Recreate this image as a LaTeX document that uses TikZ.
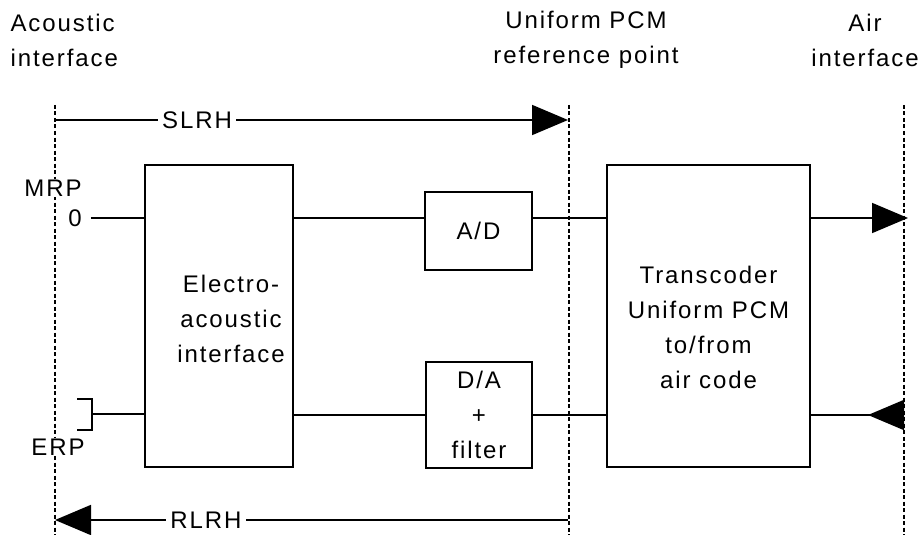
\documentclass[tikz,border=0pt]{standalone}
\usepackage{fontspec}
\setmainfont{Liberation Sans}[LetterSpace=8.0]
\usetikzlibrary{arrows.meta, positioning}

\begin{document}
\begin{tikzpicture}[
        x=1pt, y=-1pt,
        every node/.style={font=\fontsize{24}{35}\selectfont, align=center},
        block/.style={draw, line width=1.8pt, inner sep=0pt},
        wire/.style={line width=1.8pt},
        refline/.style={line width=1.1pt, dash pattern=on 4pt off 2.5pt},
        bigarrow/.style={-{Triangle[length=36pt, width=30pt]}},
        tag/.style={fill=white, inner xsep=4pt, inner ysep=1pt}
    ]
        \useasboundingbox (0,0) rectangle (922,535);

        % Bezugsebenen
        \coordinate (acTop) at (55,105);
        \coordinate (acBot) at (55,535);
        \coordinate (pcmTop) at (569,105);
        \coordinate (pcmBot) at (569,535);
        \coordinate (airTop) at (904,105);
        \coordinate (airBot) at (904,535);
        \draw[refline] (acTop) -- (acBot);
        \draw[refline] (pcmTop) -- (pcmBot);
        \draw[refline] (airTop) -- (airBot);

        % Beschriftung oben
        \node[align=left, anchor=west] (acoustic) at (7,40) {Acoustic\\interface};
        \node (pcmref) at (586,40) {Uniform PCM\\reference point};
        \node (airif) at (865,40) {Air\\interface};

        % Bloecke
        \node[block, minimum width=148pt, minimum height=302pt] (elac) at (219,316) {};
        \node (elactext) at ([xshift=12pt, yshift=-3pt]elac.center) {Electro-\\acoustic\\interface};
        \node[block, minimum width=107pt, minimum height=78pt] (ad) at (478.5,231) {A/D};
        \node[block, minimum width=106pt, minimum height=106pt] (da) at (479,415) {D/A\\+\\filter};
        \node[block, minimum width=203pt, minimum height=302pt] (trans) at (708.5,316) {};
        \node (transtext) at ([yshift=-11pt]trans.center) {Transcoder\\Uniform PCM\\to/from\\air code};

        % Mikrofon und Ohr
        \node[tag] (mrp) at (53,188) {MRP};
        \node[inner sep=0pt] (zero) at (75,218) {0};
        \coordinate (erpjack) at (92,414);
        \draw[wire, line width=1.5pt] (77,399) -- (92,399) -- (92,430) -- (77,430);
        \node[tag] (erp) at (58,447) {ERP};

        % Sendeweg
        \draw[wire] ([xshift=9pt]zero.east) -- (zero -| elac.west);
        \draw[wire] (zero -| elac.east) -- (zero -| ad.west);
        \draw[wire] (zero -| ad.east) -- (zero -| trans.west);
        \coordinate (airout) at (908,218);
        \draw[wire, bigarrow] (zero -| trans.east) -- (airout);

        % Empfangsweg
        \coordinate (airin) at (904,415);
        \draw[wire, {Triangle[reversed, length=36pt, width=30pt]}-] (airin) -- (da.east -| trans.east);
        \draw[wire] (da.east -| trans.west) -- (da.east);
        \draw[wire] (da.west) -- (da.west -| elac.east);
        \draw[wire] (erpjack) -- (erpjack -| elac.west);

        % Lautstaerkemasse
        \coordinate (slrhstart) at (55,120);
        \coordinate (slrhend) at (568,120);
        \draw[wire, bigarrow] (slrhstart) -- (slrhend);
        \node[tag] (slrh) at (197,120) {SLRH};
        \coordinate (rlrhstart) at (568,520);
        \coordinate (rlrhend) at (55,520);
        \draw[wire, bigarrow] (rlrhstart) -- (rlrhend);
        \node[tag] (rlrh) at (206,520) {RLRH};
    \end{tikzpicture}
\end{document}
